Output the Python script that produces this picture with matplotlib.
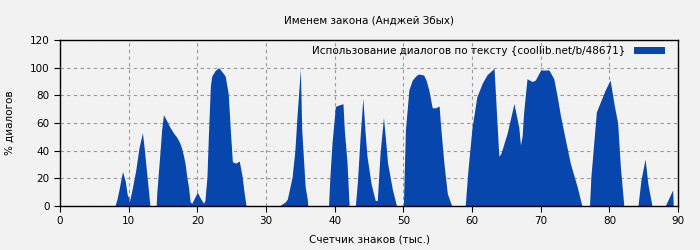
import matplotlib.pyplot as plt

# Доля диалогов по тексту, ключевые точки (тыс. знаков, %)
znaki = [0, 8.0, 8.3, 8.6, 9.1, 9.5, 9.8, 10.0, 10.1, 10.5, 11.0, 11.5, 12.0, 12.3, 12.7, 13.0, 13.1,
         14.0, 14.1, 14.5, 14.8, 15.06, 15.5, 16.0, 16.5, 17.0, 17.4, 17.7, 18.0, 18.2, 18.5, 18.7,
         18.95, 19.2, 19.5, 20.0, 20.4, 20.9, 21.1, 21.4, 21.6, 21.9, 22.1, 22.6, 23.1, 23.6, 24.05,
         24.5, 24.8, 25.1, 25.6, 26.1, 26.5, 26.8, 27.1,
         32.0, 32.2, 32.8, 33.1, 33.8, 34.2, 34.5, 34.8, 35.0, 35.2, 35.5, 35.7, 36.0, 36.1,
         39.1, 39.3, 39.6, 40.1, 40.6, 41.2, 41.4, 41.8, 42.0, 42.1,
         43.0, 43.3, 43.7, 44.1, 44.4, 44.7, 45.3, 45.9, 46.2, 46.6, 47.1, 47.4, 47.7, 48.4, 48.8, 49.0,
         50.0, 50.1, 50.3, 50.8, 51.3, 51.8, 52.2, 52.95, 53.3, 53.7, 54.2, 54.7, 55.2, 55.4, 55.9,
         56.4, 56.9, 57.1,
         59.0, 59.4, 60.0, 60.7, 61.5, 62.2, 63.2, 63.5, 63.9, 64.2, 65.1, 66.1, 66.8, 67.05, 67.3,
         67.5, 68.0, 68.75, 69.2, 70.0, 71.2, 71.9, 72.4, 72.9, 73.6, 74.3, 75.3, 76.0,
         77.1, 77.3, 78.1, 78.7, 79.4, 80.1, 80.7, 81.2, 81.6, 82.1,
         84.15, 84.6, 85.2, 85.6, 86.2,
         88.1, 88.5, 89.2, 89.3]
dialogi = [0, 0, 5, 12, 25, 18, 8, 6, 3, 12, 25, 42, 53, 40, 20, 5, 0,
           0, 10, 35, 55, 66, 62, 57, 53, 49.7, 46, 42, 36, 31, 20, 14,
           3, 2, 5, 10, 6, 2, 4, 21, 50, 87, 94, 98, 100, 97, 94,
           81, 55, 32, 31, 32.5, 22, 10, 0,
           0, 1, 3, 5, 21, 40, 64, 85, 99, 55, 30, 14, 5, 0,
           0, 21, 45, 72, 73, 74, 55, 31, 10, 0,
           0, 17, 50, 78, 55, 36, 16, 4, 4, 38, 64, 48, 31, 12, 4, 0,
           0, 20, 55, 84, 91, 94, 95.4, 94.7, 91, 84, 71, 71, 72.3, 59, 31,
           9, 2, 0,
           0, 26, 57, 79, 89, 95, 99.5, 72, 36, 38, 52.5, 74, 57, 44, 51,
           67, 92, 90, 91, 98.3, 98.3, 92, 79, 64.6, 47.7, 31, 14, 0,
           0, 21, 68, 75.4, 84, 91, 73, 60, 28, 0,
           0, 19, 34, 16, 0,
           0, 4, 11.6, 0]

plt.rcParams['font.size'] = 7.5
fig = plt.figure(figsize=(7, 2.5), dpi=100, facecolor='#f2f2f2')
ax = fig.add_axes([0.0857, 0.176, 0.883, 0.664], facecolor='#f2f2f2')

ax.fill_between(znaki, dialogi, 0, color='#0646ad', linewidth=0,
                label='Использование диалогов по тексту {coollib.net/b/48671}')

ax.set_xlim(0, 90)
ax.set_ylim(0, 120)
ax.set_xticks(range(0, 91, 10))
ax.set_yticks(range(0, 121, 20))
ax.grid(True, color='#999999', linestyle=(0, (3, 3)), linewidth=0.8)
ax.set_axisbelow(True)
ax.tick_params(length=4, width=0.8)
for s in ax.spines.values():
    s.set_linewidth(1)

ax.set_title('Именем закона (Анджей Збых)', fontsize=7.5, pad=12)
ax.set_xlabel('Счетчик знаков (тыс.)', fontsize=7.5, labelpad=6)
ax.set_ylabel('% диалогов', fontsize=7.5, labelpad=11)
ax.legend(loc='upper right', bbox_to_anchor=(0.989, 1.0), frameon=False,
          handlelength=3.0, handleheight=0.6, borderaxespad=0.2,
          markerfirst=False, fontsize=7.5)

fig.savefig('out.png', dpi=100, facecolor=fig.get_facecolor())
